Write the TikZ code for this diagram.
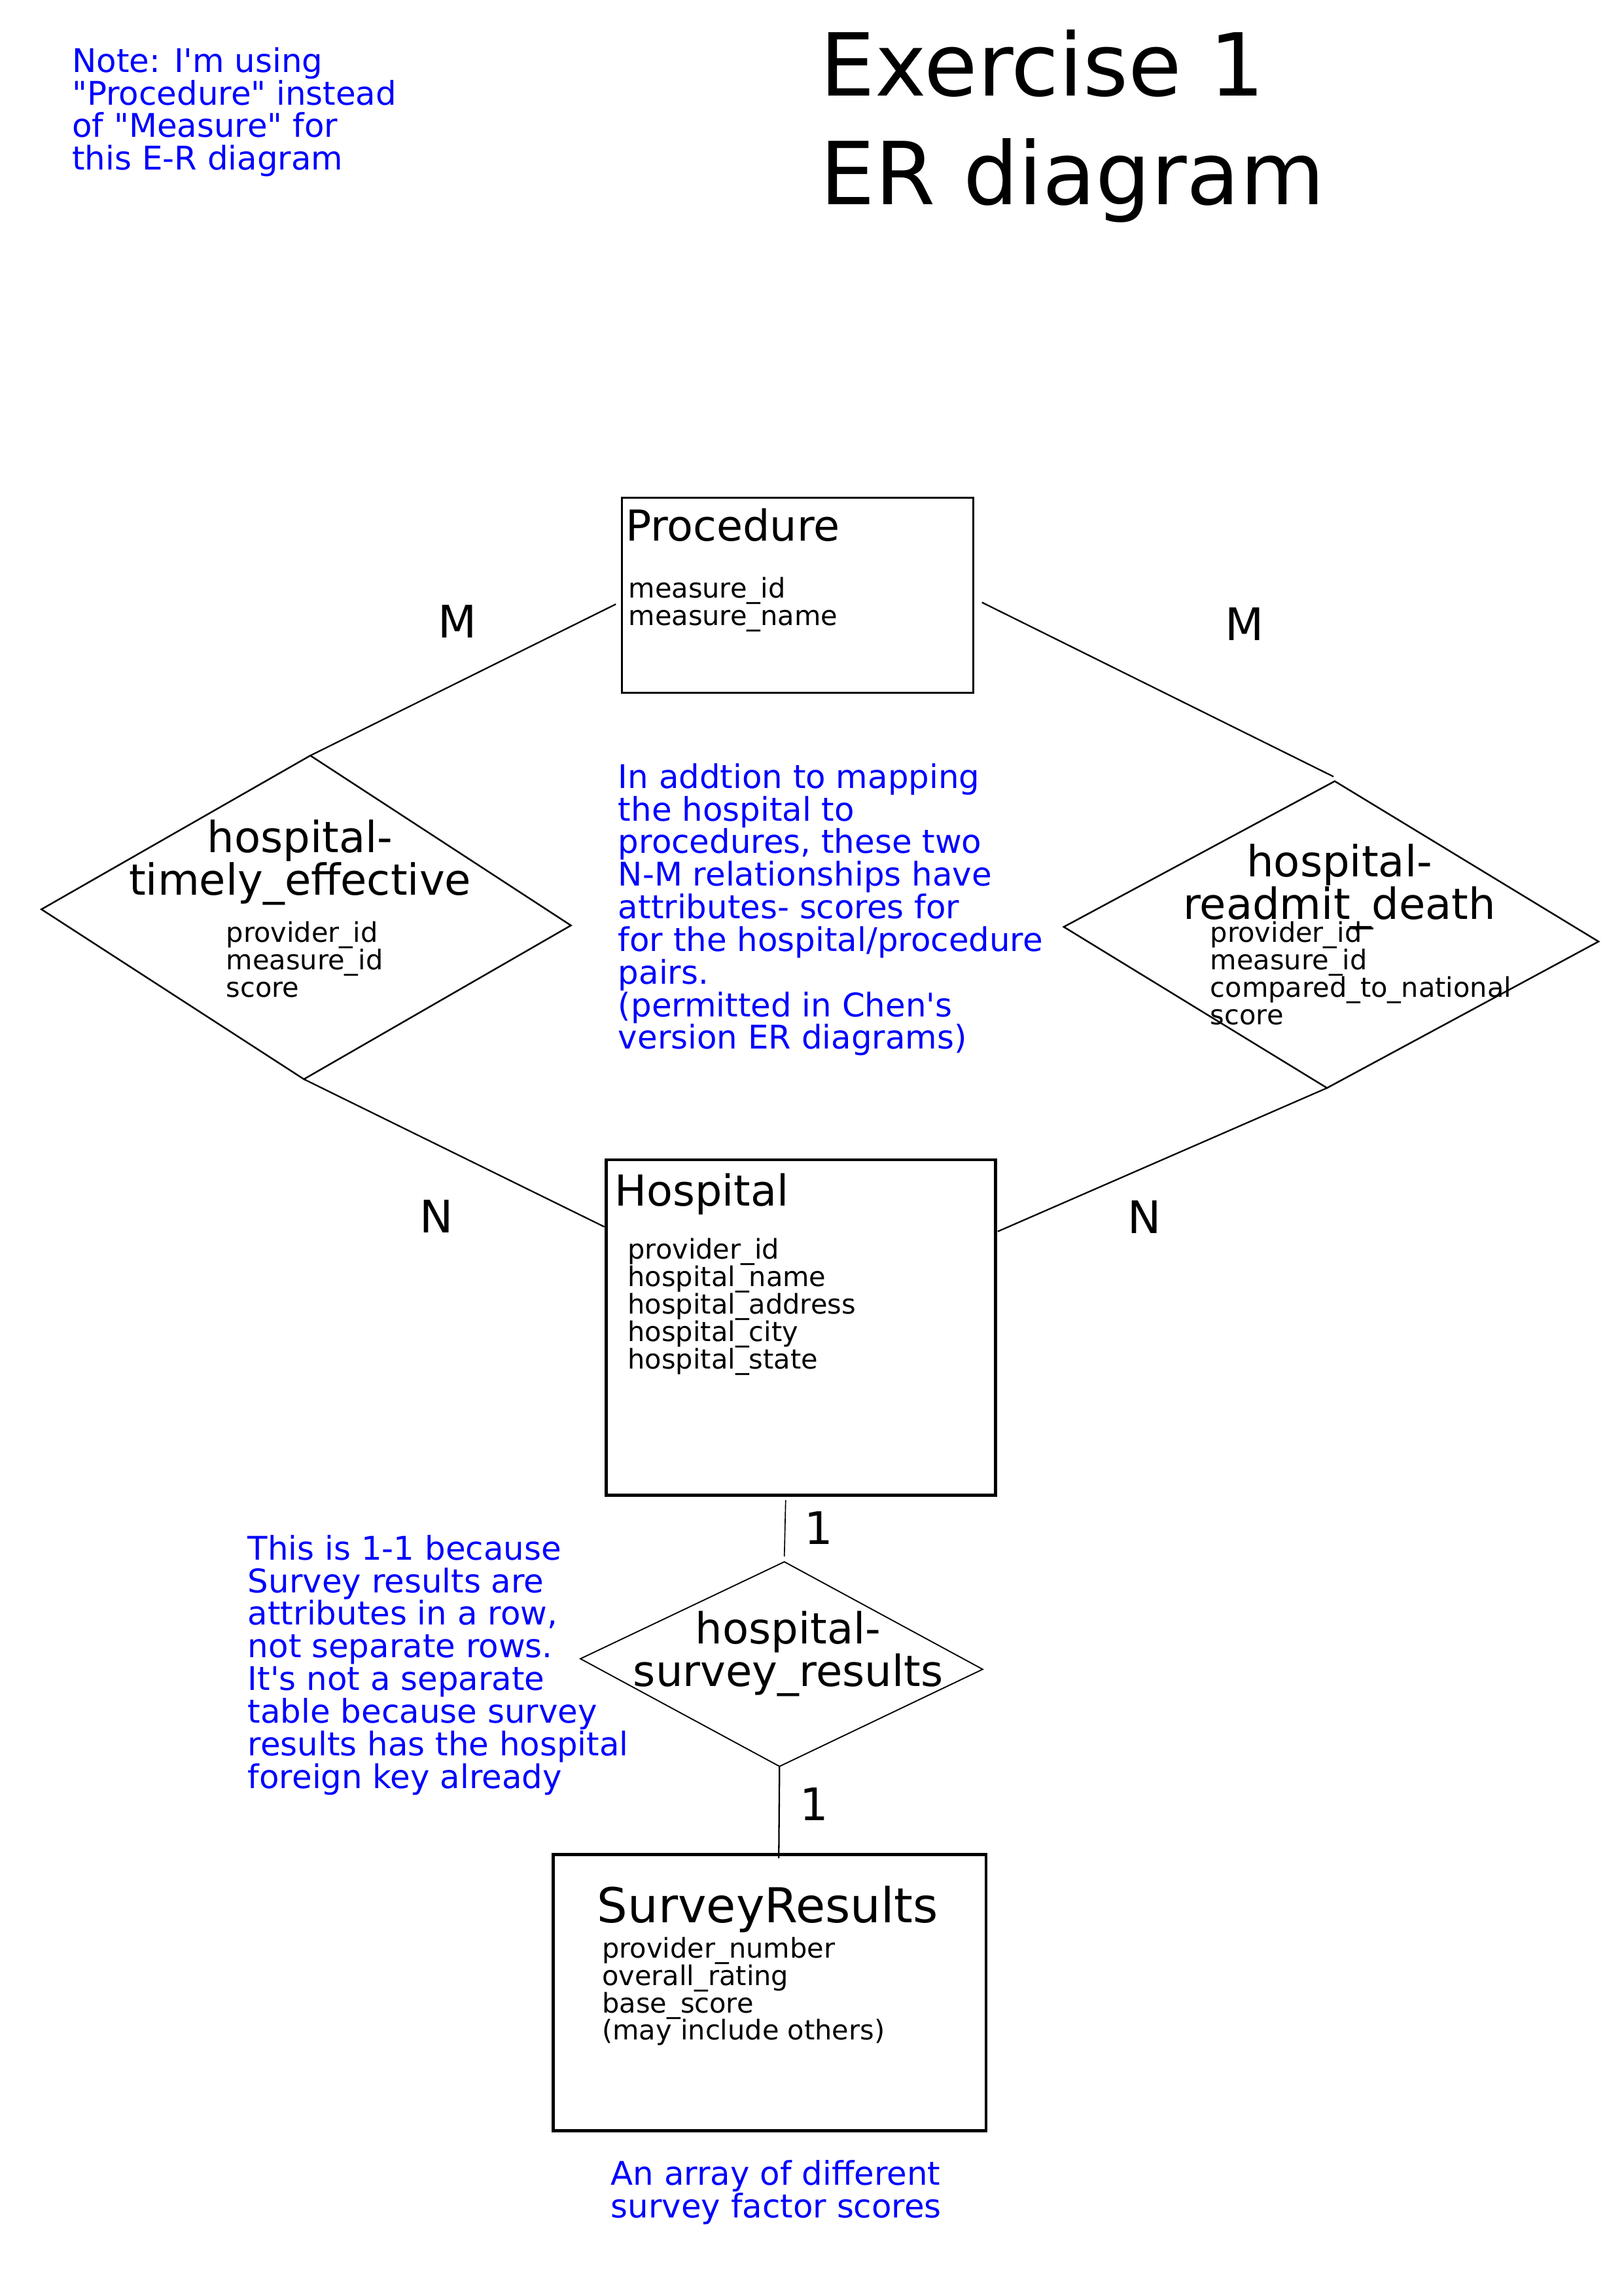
\documentclass[tikz,border=0pt]{standalone}
\usepackage{fontspec}
\setmainfont{DejaVu Sans}
\usetikzlibrary{fit}
\lineskiplimit=-20pt
\newcommand{\bigtitlefont}{\fontsize{32}{40}\selectfont}
\newcommand{\notefont}{\fontsize{12}{12}\selectfont}
\newcommand{\attrfont}{\fontsize{10}{10.1}\selectfont}
\newcommand{\entfont}{\fontsize{15.7}{16}\selectfont}
\newcommand{\relfont}{\fontsize{15.8}{15.6}\selectfont}
\newcommand{\cardfont}{\fontsize{16.5}{16.5}\selectfont}
\newcommand{\dq}{\textquotedbl}
\newcommand{\sq}{\textquotesingle}
\tikzset{
  entity/.style={draw, line width=1.1pt, inner sep=0},
  relship/.style={line width=0.6pt, line join=miter},
  link/.style={line width=0.55pt},
  note/.style={text=blue, font=\notefont, align=left, inner sep=0, anchor=north west},
  attr/.style={font=\attrfont, align=left, inner sep=0, anchor=north west},
  entname/.style={font=\entfont, inner sep=0, anchor=base west},
  relname/.style={font=\relfont, align=center, inner sep=0, anchor=north},
  card/.style={font=\cardfont, inner sep=0}
}
\begin{document}
\begin{tikzpicture}[x=0.1894mm, y=-0.1894mm]
\useasboundingbox (0,0) rectangle (1109,1568);

% headings and notes
\node[font=\bigtitlefont, align=left, inner sep=0, anchor=north west] (title) at (560,20) {Exercise 1\\ER diagram};
\node[note] (note-proc) at (49,32) {Note: I\sq m using\\\dq Procedure\dq{} instead\\of \dq Measure\dq{} for\\this E-R diagram};
\node[note] (note-nm) at (422,521) {In addtion to mapping\\the hospital to\\procedures, these two\\N-M relationships have\\attributes- scores for\\for the hospital/procedure\\pairs.\\(permitted in Chen\sq s\\version ER diagrams)};
\node[note] (note-11) at (169,1048) {This is 1-1 because\\Survey results are\\attributes in a row,\\not separate rows.\\It\sq s not a separate\\table because survey\\results has the hospital\\foreign key already};
\node[note] (note-arr) at (417,1475) {An array of different\\survey factor scores};

% entities
\node[entity, line width=0.7pt, fit={(425,340) (665,473)}] (proc) {};
\node[entname] (proc-name) at (427,369.5) {Procedure};
\node[attr] (proc-attr) at (429,394) {measure\_id\\measure\_name};

\node[entity, fit={(414,792) (680,1021)}] (hosp) {};
\node[entname] (hosp-name) at (419.5,823.6) {Hospital};
\node[attr] (hosp-attr) at (428.5,845.5) {provider\_id\\hospital\_name\\hospital\_address\\hospital\_city\\hospital\_state};

\node[entity, fit={(378,1266.5) (673.5,1455)}] (surv) {};
\node[font=\fontsize{17.7}{18}\selectfont, inner sep=0, anchor=base] (surv-name) at (524.5,1313) {SurveyResults};
\node[attr] (surv-attr) at (411,1322.5) {provider\_number\\overall\_rating\\base\_score\\(may include others)};

% relationships
\coordinate (te-n) at (212,516);
\coordinate (te-w) at (28.3,621);
\coordinate (te-s) at (207.6,737);
\coordinate (te-e) at (390,632);
\draw[relship] (te-n) -- (te-e) -- (te-s) -- (te-w) -- cycle;
\node[relname] (te-name) at (205,559.5) {hospital-\\timely\_effective};
\node[attr] (te-attr) at (154.2,629) {provider\_id\\measure\_id\\score};

\coordinate (rd-n) at (911.8,533.5);
\coordinate (rd-w) at (726.7,633);
\coordinate (rd-s) at (906.5,743);
\coordinate (rd-e) at (1092,643);
\draw[relship] (rd-n) -- (rd-e) -- (rd-s) -- (rd-w) -- cycle;
\node[relname] (rd-name) at (915,576) {hospital-\\readmit\_death};
\node[attr] (rd-attr) at (826.5,629) {provider\_id\\measure\_id\\compared\_to\_national\\score};
\draw[link] (924,634) -- (938,634);

\coordinate (sr-n) at (535.8,1066.6);
\coordinate (sr-w) at (396.5,1132.8);
\coordinate (sr-s) at (532.5,1206.3);
\coordinate (sr-e) at (671.3,1140);
\draw[relship, line width=0.45pt] (sr-n) -- (sr-e) -- (sr-s) -- (sr-w) -- cycle;
\node[relname] (sr-name) at (538.4,1100) {hospital-\\survey\_results};

% connectors
\coordinate (proc-l) at (420.7,412.6);
\coordinate (proc-r) at (670.8,411.4);
\coordinate (rd-top) at (911,530.4);
\coordinate (hosp-l) at (412.8,837.8);
\coordinate (hosp-r) at (681.6,841);
\coordinate (hosp-b) at (536.7,1024.5);
\coordinate (sr-top) at (535.8,1063);
\coordinate (surv-t) at (532,1269);
\draw[link] (proc-l) -- (te-n);
\draw[link] (proc-r) -- (rd-top);
\draw[link] (te-s) -- (hosp-l);
\draw[link] (rd-s) -- (hosp-r);
\draw[link, line width=0.4pt] (hosp-b) -- (sr-top);
\draw[link] (sr-s) -- (surv-t);

% cardinalities
\node[card] (m-left) at (312.4,424.5) {M};
\node[card] (m-right) at (850.2,426.3) {M};
\node[card] (n-left) at (298,830.9) {N};
\node[card] (n-right) at (782,831) {N};
\node[card] (one-top) at (559.5,1043.4) {1};
\node[card] (one-bot) at (556,1232) {1};
\end{tikzpicture}
\end{document}
